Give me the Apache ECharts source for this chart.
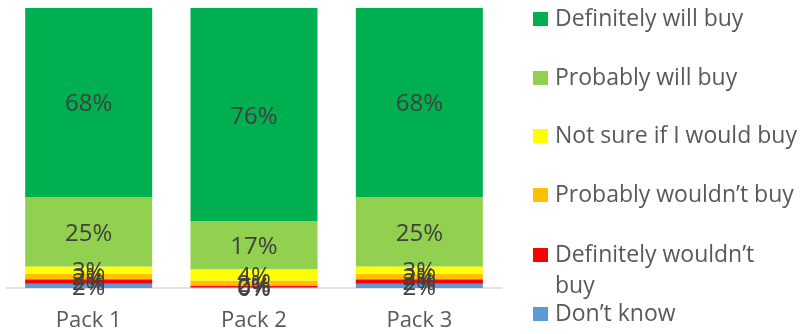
<!DOCTYPE html>
<html>
<head>
<meta charset="utf-8">
<script src="https://cdn.jsdelivr.net/npm/echarts@6/dist/echarts.min.js"></script>
<style>
  html, body { margin: 0; padding: 0; background: #ffffff; }
  #chart { width: 800px; height: 334px; }
</style>
</head>
<body>
<div id="chart"></div>
<script>
// Purchase intent by pack (share of respondents, %)
const categories = ['Pack 1', 'Pack 2', 'Pack 3'];
const seriesNames = [
  'Definitely will buy',
  'Probably will buy',
  'Not sure if I would buy',
  'Probably wouldn\u2019t buy',
  'Definitely wouldn\u2019t buy',
  'Don\u2019t know'
];
const definitelyWillBuy    = [67.5, 76.2, 67.6];
const probablyWillBuy      = [24.8, 17.1, 24.7];
const notSure              = [2.6, 4.0, 2.6];
const probablyWouldntBuy   = [2.0, 2.0, 2.0];
const definitelyWouldntBuy = [1.6, 0.4, 1.6];
const dontKnow             = [1.5, 0.3, 1.5];
const colors = ['#00b050', '#92d050', '#ffff00', '#ffc000', '#ff0000', '#5b9bd5'];

const values = [definitelyWillBuy, probablyWillBuy, notSure, probablyWouldntBuy, definitelyWouldntBuy, dontKnow];
const font = '"Open Sans", "Noto Sans", sans-serif';

// Stack from the bottom up: "Don't know" sits on the axis, "Definitely will buy" on top
const series = seriesNames.map((name, i) => ({
  name: name,
  type: 'bar',
  stack: 'total',
  barWidth: 127,
  data: values[i],
  itemStyle: { color: colors[i] },
  label: {
    show: true,
    position: 'inside',
    offset: [0, 2],
    color: '#404040',
    fontFamily: font,
    fontSize: 24,
    formatter: p => Math.round(p.value) + '%'
  }
})).reverse();

// One legend block per entry so each row sits at its own height
const legendTops = [4, 63, 121, 180, 240, 299];
const legends = seriesNames.map((name, i) => ({
  data: [name],
  left: 533,
  top: legendTops[i],
  padding: 0,
  itemWidth: 15,
  itemHeight: 14,
  itemGap: 0,
  icon: 'rect',
  selectedMode: false,
  formatter: i === 4 ? () => 'Definitely wouldn\u2019t' : undefined,
  textStyle: {
    color: '#595959',
    fontFamily: font,
    fontSize: 23,
    lineHeight: 30,
    padding: [0, 0, 0, 2]
  }
}));

const chart = echarts.init(document.getElementById('chart'), null, { renderer: 'canvas' });
chart.setOption({
  animation: false,
  grid: { left: 6, right: 298, top: 8, bottom: 46, containLabel: false },
  legend: legends,
  // wrapped second line of the "Definitely wouldn't buy" legend entry
  graphic: [{
    type: 'text',
    left: 555,
    top: 275,
    style: { text: 'buy', fill: '#595959', font: '23px ' + font }
  }],
  xAxis: {
    type: 'category',
    data: categories,
    axisLine: { lineStyle: { color: '#d9d9d9', width: 1.5 } },
    axisTick: { show: false },
    axisLabel: { color: '#595959', fontFamily: font, fontSize: 22, margin: 22 }
  },
  yAxis: {
    type: 'value',
    min: 0,
    max: 100,
    show: false,
    splitLine: { show: false }
  },
  series: series
});
</script>
</body>
</html>
